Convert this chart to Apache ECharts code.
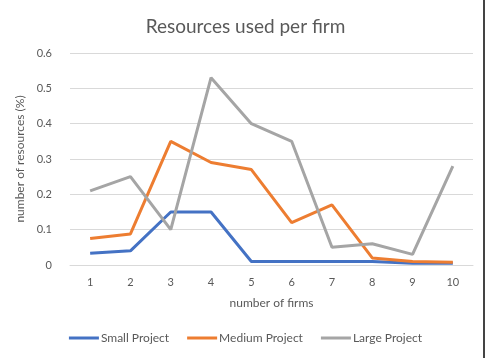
<!DOCTYPE html>
<html>
<head>
<meta charset="utf-8">
<script src="https://cdn.jsdelivr.net/npm/echarts@6/dist/echarts.min.js"></script>
<style>
  html, body { margin: 0; padding: 0; background: #fff; }
  #main { width: 491px; height: 358px; }
</style>
</head>
<body>
<div id="main"></div>
<script type="text/javascript">
    var firms = ['1', '2', '3', '4', '5', '6', '7', '8', '9', '10'];
    var smallProject = [0.033, 0.04, 0.15, 0.15, 0.01, 0.01, 0.01, 0.01, 0.005, 0.005];
    var mediumProject = [0.075, 0.088, 0.35, 0.29, 0.27, 0.12, 0.17, 0.02, 0.01, 0.008];
    var largeProject = [0.21, 0.25, 0.1, 0.53, 0.4, 0.35, 0.05, 0.06, 0.03, 0.28];

    var myChart = echarts.init(document.getElementById('main'));
    var txt = '#595959';
    var font = 'Lato';

    function line(name, data, color) {
        return {
            name: name,
            type: 'line',
            data: data,
            symbol: 'none',
            smooth: false,
            lineStyle: { color: color, width: 3 },
            itemStyle: { color: color }
        };
    }

    var option = {
        textStyle: { fontFamily: font },
        title: {
            text: 'Resources used per firm',
            left: 'center',
            top: 12,
            textStyle: { color: txt, fontSize: 19, fontWeight: 'normal', fontFamily: font }
        },
        legend: {
            bottom: 9,
            left: 'center',
            itemWidth: 30,
            itemHeight: 3,
            itemGap: 18,
            icon: 'rect',
            textStyle: { color: txt, fontSize: 12, fontFamily: font, padding: [0, 0, 0, -3] },
            data: ['Small Project', 'Medium Project', 'Large Project']
        },
        grid: { left: 70, right: 18, top: 53, bottom: 93 },
        xAxis: {
            type: 'category',
            data: firms,
            boundaryGap: true,
            name: 'number of firms',
            nameLocation: 'middle',
            nameGap: 32,
            nameTextStyle: { color: txt, fontSize: 12 },
            axisLine: { lineStyle: { color: '#d9d9d9' } },
            axisTick: { show: false },
            axisLabel: { color: txt, fontSize: 11, margin: 12 }
        },
        yAxis: {
            type: 'value',
            min: 0,
            max: 0.6,
            interval: 0.1,
            name: 'number of resources (%)',
            nameLocation: 'middle',
            nameGap: 40,
            nameTextStyle: { color: txt, fontSize: 12 },
            axisLine: { show: false },
            axisTick: { show: false },
            splitLine: { lineStyle: { color: '#d9d9d9' } },
            axisLabel: {
                color: txt, fontSize: 11, margin: 18,
                formatter: function (v) { return v === 0 ? '0' : String(Math.round(v * 10) / 10); }
            }
        },
        graphic: [{
            type: 'line',
            shape: { x1: 484, y1: 0, x2: 484, y2: 358 },
            style: { stroke: '#444', lineWidth: 2 }
        }],
        series: [
            line('Small Project', smallProject, '#4472C4'),
            line('Medium Project', mediumProject, '#ED7D31'),
            line('Large Project', largeProject, '#A5A5A5')
        ]
    };
    myChart.setOption(option);
</script>
</body>
</html>
